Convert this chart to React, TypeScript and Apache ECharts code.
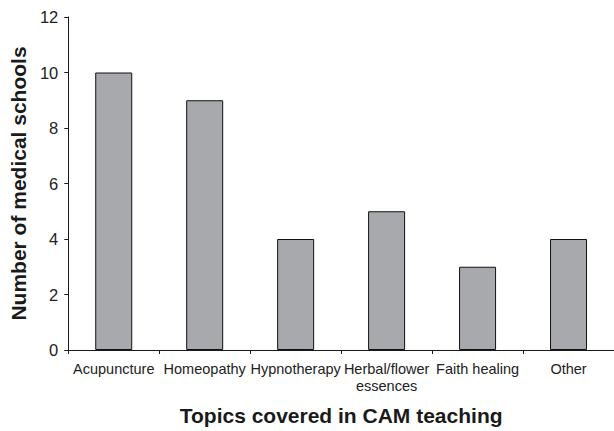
import React, { useEffect, useRef } from "react";
import * as echarts from "echarts";

const categories = ["Acupuncture", "Homeopathy", "Hypnotherapy", "Herbal/flower\nessences", "Faith healing", "Other"];
const values = [10, 9, 4, 5, 3, 4];
const yTicks = { min: 0, max: 12, interval: 2 };

export default function App() {
  const ref = useRef<HTMLDivElement>(null);
  useEffect(() => {
    if (!ref.current) return;
    const chart = echarts.init(ref.current, undefined, { renderer: "svg" });
    const font = "Arial, 'Liberation Sans', Helvetica, sans-serif";
    chart.setOption({
      animation: false,
      backgroundColor: "#ffffff",
      grid: { left: 65, top: 17, bottom: 77.5, right: -8, containLabel: false },
      xAxis: {
        type: "category",
        data: categories,
        name: "Topics covered in CAM teaching",
        nameLocation: "middle",
        nameGap: 55,
        nameTextStyle: { fontFamily: font, fontSize: 21, fontWeight: "bold", color: "#1a1a1a" },
        axisLine: { lineStyle: { color: "#1a1a1a", width: 1 } },
        axisTick: { show: true, length: 4, lineStyle: { color: "#1a1a1a" } },
        axisLabel: { fontFamily: font, fontSize: 14.5, color: "#222", margin: 10, lineHeight: 17, interval: 0 },
      },
      yAxis: {
        type: "value",
        min: yTicks.min,
        max: yTicks.max,
        interval: yTicks.interval,
        name: "Number of medical schools",
        nameLocation: "middle",
        nameGap: 30,
        nameRotate: 90,
        nameTextStyle: { fontFamily: font, fontSize: 21, fontWeight: "bold", color: "#1a1a1a" },
        axisLine: { show: true, lineStyle: { color: "#1a1a1a", width: 1 } },
        axisTick: { show: true, length: 4, lineStyle: { color: "#1a1a1a" } },
        axisLabel: { fontFamily: font, fontSize: 16.5, color: "#222", margin: 10 },
        splitLine: { show: false },
      },
      series: [
        {
          type: "bar",
          data: values,
          barWidth: 37,
          itemStyle: { color: "#a7a9ac", borderColor: "#111", borderWidth: 1 },
        },
      ],
    });
    return () => chart.dispose();
  }, []);
  return <div ref={ref} style={{ position: "absolute", left: 0, top: 0, width: 614, height: 431 }} />;
}
